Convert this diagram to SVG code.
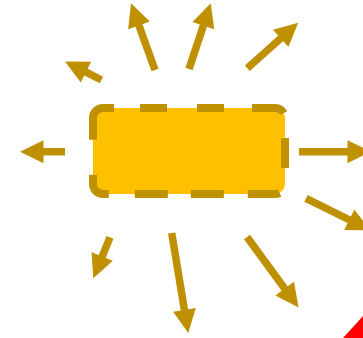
<svg xmlns="http://www.w3.org/2000/svg" width="363" height="338" viewBox="0 0 363 338">
<style>
.arrow{stroke:#BF9000;stroke-width:7.5;fill:none;stroke-linecap:butt;marker-end:url(#head)}
.box{fill:#FFC000;stroke:#BF9000;stroke-width:8;stroke-dasharray:48.7 26 27 30 27 28 33.5 25.2 30 26.8 31.9 24 33 23 33 26 30.7 35;stroke-dashoffset:37.7}
</style>
<defs>
<marker id="head" markerUnits="userSpaceOnUse" markerWidth="24" markerHeight="24" refX="0" refY="0" orient="auto" overflow="visible">
<path d="M-0.5,-11.5 L23,0 L-0.5,11.5 Z" fill="#BF9000"/>
</marker>
</defs>
<rect width="363" height="338" fill="#FFFFFF"/>
<g id="connectors">
<line class="arrow" x1="65" y1="151.7" x2="43" y2="151.7"/>
<line class="arrow" x1="299" y1="151.7" x2="348" y2="151.7"/>
<line class="arrow" x1="306" y1="198.3" x2="349.7" y2="220"/>
<line class="arrow" x1="247" y1="237" x2="285" y2="289"/>
<line class="arrow" x1="171.7" y1="233" x2="184.5" y2="310.3"/>
<line class="arrow" x1="110" y1="237.3" x2="102" y2="257"/>
<line class="arrow" x1="101.5" y1="80" x2="85.5" y2="71.9"/>
<line class="arrow" x1="155" y1="70" x2="138.8" y2="24.9"/>
<line class="arrow" x1="189" y1="69" x2="203.5" y2="25.2"/>
<line class="arrow" x1="247.3" y1="68.3" x2="281.1" y2="38"/>
</g>
<g id="box">
<rect class="box" x="93" y="108" width="192" height="86" rx="10" ry="10"/>
</g>
<g id="corner">
<polygon points="343,338 363,316 363,338" fill="#FF0000"/>
</g>
</svg>
